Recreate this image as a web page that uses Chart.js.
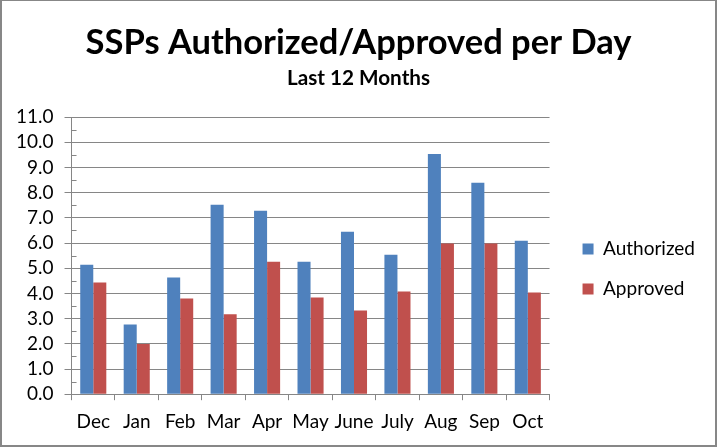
<!DOCTYPE html>
<html>
<head>
<meta charset="utf-8">
<script src="https://cdn.jsdelivr.net/npm/chart.js@4.4.1/dist/chart.umd.min.js"></script>
<style>
  html, body { margin: 0; padding: 0; background: #fff; }
  #frame {
    position: absolute; left: 0; top: 0;
    width: 717px; height: 447px;
    box-sizing: border-box;
    border: 2px solid #878787; border-top-width: 1px;
  }
</style>
</head>
<body>
<div id="frame"><canvas id="chart"></canvas></div>
<script>
const months = ['Dec', 'Jan', 'Feb', 'Mar', 'Apr', 'May', 'June', 'July', 'Aug', 'Sep', 'Oct'];
const authorized = [5.14, 2.77, 4.63, 7.52, 7.28, 5.26, 6.45, 5.54, 9.54, 8.39, 6.09];
const approved = [4.43, 1.99, 3.80, 3.17, 5.26, 3.84, 3.32, 4.08, 5.98, 5.98, 4.04];
const yMin = 0, yMax = 11, yStep = 1;

const axisGray = '#868686';
const font = 'Lato';

// small inner ticks halfway between the y gridlines
const minorTicks = {
  id: 'minorTicks',
  afterDraw(chart) {
    const y = chart.scales.y;
    const ctx = chart.ctx;
    ctx.save();
    ctx.strokeStyle = axisGray;
    ctx.lineWidth = 1;
    for (let v = yMin + yStep / 2; v < yMax; v += yStep) {
      const py = Math.round(y.getPixelForValue(v)) + 0.5;
      ctx.beginPath();
      ctx.moveTo(y.right, py);
      ctx.lineTo(y.right + 5, py);
      ctx.stroke();
    }
    ctx.restore();
  }
};

// leave a gap between the plot and the legend, lower the legend a bit,
// and center the titles on the whole canvas
const nudge = {
  id: 'nudge',
  afterLayout(chart) {
    const lg = chart.legend;
    if (lg) {
      lg.left += 12; lg.right += 12;
      lg.top += 47; lg.bottom += 47;
    }
    const tb = chart.titleBlock;
    if (!tb) return;
    for (const b of chart.boxes) {
      if (b.constructor !== tb.constructor) continue;
      const dx = chart.width / 2 - (b.left + b.right) / 2;
      b.left += dx; b.right += dx;
    }
  }
};

new Chart(document.getElementById('chart'), {
  type: 'bar',
  data: {
    labels: months,
    datasets: [
      { label: 'Authorized', data: authorized, backgroundColor: '#4F81BD' },
      { label: 'Approved', data: approved, backgroundColor: '#C0504D' }
    ]
  },
  options: {
    responsive: true,
    maintainAspectRatio: false,
    animation: false,
    datasets: { bar: { categoryPercentage: 0.6, barPercentage: 1.0 } },
    layout: { padding: { left: 3, right: 22, top: 0, bottom: 2 } },
    plugins: {
      title: {
        display: true,
        text: 'SSPs Authorized/Approved per Day',
        color: '#000',
        font: { family: font, size: 34.5, weight: 'bold' },
        padding: { top: 21, bottom: 0 }
      },
      subtitle: {
        display: true,
        text: 'Last 12 Months',
        color: '#000',
        font: { family: font, size: 20.7, weight: 'bold', lineHeight: 1.0 },
        padding: { top: 5, bottom: 28 }
      },
      legend: {
        position: 'right',
        labels: {
          boxWidth: 11,
          boxHeight: 11,
          padding: 21,
          color: '#000',
          font: { family: font, size: 19 }
        }
      },
      tooltip: { enabled: false }
    },
    scales: {
      x: {
        grid: { offset: true, drawOnChartArea: false, color: axisGray, tickLength: 6 },
        border: { color: axisGray },
        ticks: {
          color: '#000',
          padding: 10,
          autoSkip: false,
          maxRotation: 0,
          minRotation: 0,
          font: { family: font, size: 19 }
        }
      },
      y: {
        min: yMin,
        max: yMax,
        grid: { color: axisGray, tickLength: 7 },
        border: { color: axisGray },
        ticks: {
          stepSize: yStep,
          autoSkip: false,
          color: '#000',
          padding: 11,
          font: { family: font, size: 19 },
          callback: v => v.toFixed(1)
        }
      }
    }
  },
  plugins: [minorTicks, nudge]
});
</script>
</body>
</html>
